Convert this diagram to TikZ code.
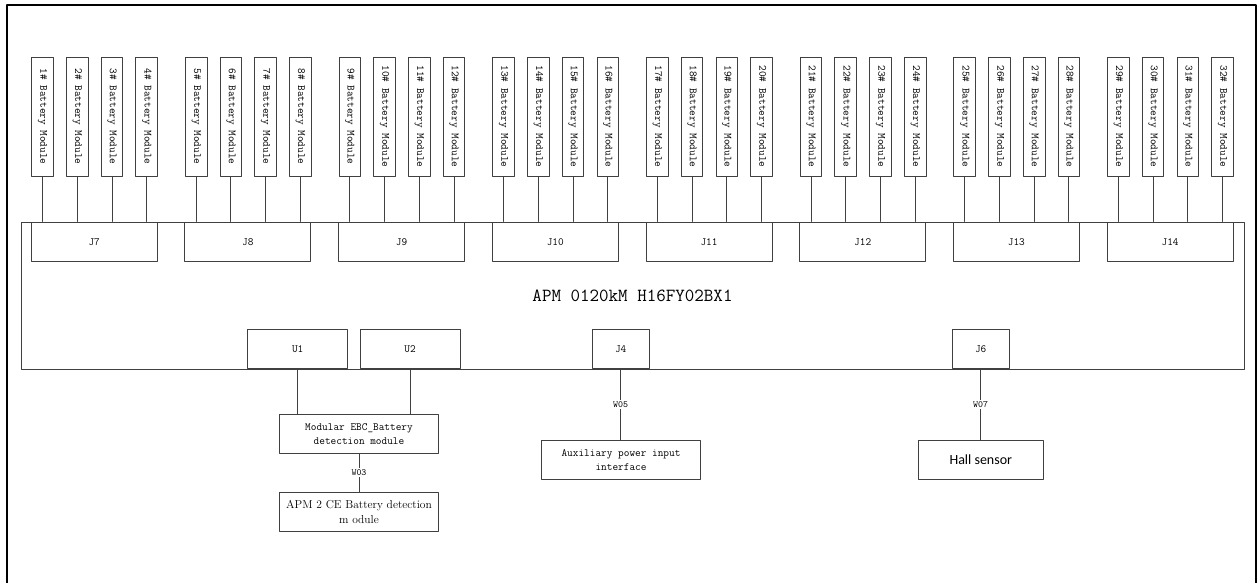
\documentclass[tikz,border=0pt]{standalone}
\usepackage{fontspec}
\newfontfamily\hallfont{Carlito}
\begin{document}
\begin{tikzpicture}[x=1pt, y=-1pt, line cap=round, line join=round,
  box/.style={draw=black!75, line width=0.9pt, inner sep=0pt, align=center,
    font=\fontsize{11}{14}\ttfamily},
  module/.style={box, rotate=-90, minimum width=119pt, minimum height=21.6pt},
  conn/.style={box, minimum width=126pt, minimum height=39.5pt},
  port/.style={box, minimum height=39.4pt},
  dev/.style={box, minimum height=39.2pt},
  wire/.style={draw=black!75, line width=0.9pt},
  wirelabel/.style={fill=white, inner sep=1.5pt, font=\fontsize{9.5}{11}\ttfamily}]
  \useasboundingbox (0,0) rectangle (1257,582);

  % Frame
  \draw[line width=2pt] (6.5,590) -- (6.5,5) -- (1256,5) -- (1256,590);

  % Board
  \node[box, minimum width=1223pt, minimum height=147pt,
    font=\fontsize{18.5}{20}\ttfamily] (apm) at (632.5,295.5) {APM 0120kM H16FY02BX1};

  % Connectors and battery modules
  \foreach \g [evaluate=\g as \jn using int(\g+7)] in {0,...,7} {
    \node[conn] (j\jn) at ({94.2+153.7*\g}, 241.7) {J\jn};
    \foreach \k in {1,...,4} {
      \pgfmathtruncatemacro\m{4*\g+\k}
      \node[module] (bm\m) at ({42.5+153.7*\g+34.73*(\k-1)}, 116.5) {\m\# Battery Module};
      \draw[wire] (bm\m.east) -- (bm\m.east |- j\jn.north);
    }
  }

  % Lower ports
  \node[port, minimum width=100pt] (u1) at (297.7,349) {U1};
  \node[port, minimum width=100pt] (u2) at (410,349) {U2};
  \node[port, minimum width=57.3pt] (j4) at (620.7,349) {J4};
  \node[port, minimum width=57.3pt] (j6) at (980.7,349) {J6};

  % Devices
  \node[dev, minimum width=159.4pt] (ebc) at (359,433.8) {Modular EBC\_Battery\\detection module};
  \node[dev, minimum width=159.4pt, font=\fontsize{11.5}{15}\rmfamily] (ce) at (359,511.7)
    {APM 2 CE Battery detection\\m odule};
  \node[dev, minimum width=158.6pt] (aux) at (621,459.7) {Auxiliary power input\\interface};
  \node[dev, minimum width=125pt, font=\hallfont\fontsize{14}{16}\selectfont] (hall) at (980.8,459.7) {Hall sensor};

  % Wires
  \draw[wire] (u1.south) -- (u1.south |- ebc.north);
  \draw[wire] (u2.south) -- (u2.south |- ebc.north);
  \draw[wire] (ebc.south) -- node[wirelabel] {W03} (ce.north);
  \draw[wire] (j4.south) -- node[wirelabel] {W05} (j4.south |- aux.north);
  \draw[wire] (j6.south) -- node[wirelabel] {W07} (j6.south |- hall.north);
\end{tikzpicture}
\end{document}
